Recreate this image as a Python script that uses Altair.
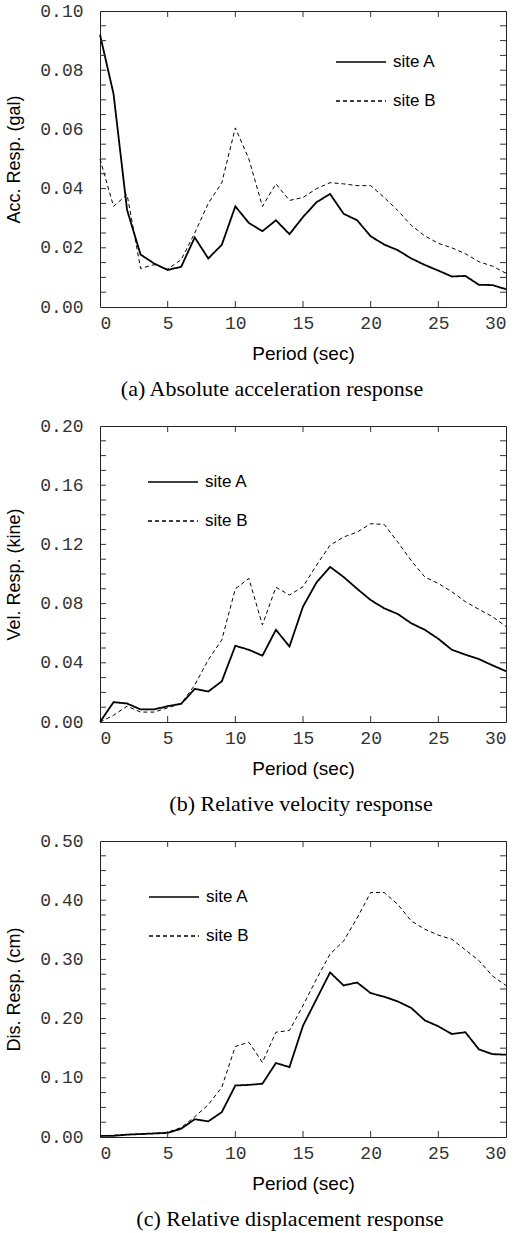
import altair as alt
import pandas as pd

# ---------------- data ----------------
period = list(range(31))

acc_site_a = [0.092, 0.072, 0.0328, 0.0177, 0.0147, 0.0125, 0.0136, 0.0235, 0.0164, 0.021,
              0.034, 0.0284, 0.0256, 0.0293, 0.0246, 0.0304, 0.0354, 0.0382, 0.0315, 0.0293,
              0.0239, 0.0211, 0.0192, 0.0164, 0.0142, 0.0123, 0.0103, 0.0105, 0.0075, 0.0074, 0.006]
acc_site_b = [0.050, 0.034, 0.038, 0.013, 0.0143, 0.0128, 0.016, 0.025, 0.035, 0.042,
              0.0605, 0.050, 0.034, 0.0416, 0.036, 0.037, 0.040, 0.042, 0.0416, 0.041,
              0.041, 0.037, 0.0326, 0.0276, 0.024, 0.0215, 0.020, 0.018, 0.0153, 0.0138, 0.0114]

vel_site_a = [0.0, 0.0134, 0.0125, 0.0085, 0.0085, 0.0107, 0.0123, 0.0224, 0.0206, 0.0275,
              0.0515, 0.0488, 0.0448, 0.0623, 0.051, 0.078, 0.0943, 0.1048, 0.098, 0.090,
              0.0824, 0.0768, 0.073, 0.0667, 0.0623, 0.0562, 0.0488, 0.0455, 0.0425, 0.0383, 0.0343]
vel_site_b = [0.0, 0.0045, 0.0107, 0.0067, 0.0067, 0.0096, 0.0125, 0.025, 0.042, 0.0555,
              0.090, 0.097, 0.0656, 0.091, 0.0858, 0.0914, 0.106, 0.1194, 0.125, 0.1283,
              0.134, 0.1335, 0.1216, 0.109, 0.098, 0.0936, 0.088, 0.0813, 0.0761, 0.0712, 0.0645]

dis_site_a = [0.002, 0.002, 0.004, 0.005, 0.006, 0.007, 0.014, 0.030, 0.0264, 0.042,
              0.087, 0.088, 0.090, 0.125, 0.118, 0.188, 0.233, 0.278, 0.256, 0.261,
              0.243, 0.237, 0.229, 0.218, 0.197, 0.187, 0.174, 0.177, 0.148, 0.140, 0.139]
dis_site_b = [0.002, 0.003, 0.004, 0.005, 0.006, 0.008, 0.016, 0.034, 0.0545, 0.084,
              0.153, 0.160, 0.126, 0.177, 0.180, 0.222, 0.267, 0.309, 0.331, 0.370,
              0.413, 0.413, 0.393, 0.365, 0.351, 0.341, 0.334, 0.316, 0.298, 0.272, 0.256]

sites = ["site A", "site B"]
x_labels = [0, 5, 10, 15, 20, 25, 30]
x_inner_ticks = [5, 10, 15, 20, 25]

acc_labels = [0.0, 0.02, 0.04, 0.06, 0.08, 0.10]
vel_labels = [0.0, 0.04, 0.08, 0.12, 0.16, 0.20]
dis_labels = [0.0, 0.10, 0.20, 0.30, 0.40, 0.50]

W, H = 406, 296


def panel(a_vals, b_vals, y_labels, ytitle, caption, cap_dx, leg_x, leg_y):
    ymax = y_labels[-1]
    minor = [ymax * i / 20 for i in range(1, 20)]
    df = pd.DataFrame({
        "Period": period + period,
        "value": a_vals + b_vals,
        "site": [sites[0]] * len(period) + [sites[1]] * len(period),
    })
    xs = alt.Scale(domain=[0, 30], nice=False, zero=False)
    ys = alt.Scale(domain=[0, ymax], nice=False)
    x_axis = alt.Axis(values=x_labels, format="d", title="Period (sec)")
    y_axis = alt.Axis(values=y_labels, format=".2f", title=ytitle)

    line = alt.Chart(df).mark_line(color="black").encode(
        x=alt.X("Period:Q", scale=xs, axis=x_axis),
        y=alt.Y("value:Q", scale=ys, axis=y_axis),
        strokeDash=alt.StrokeDash(
            "site:N",
            scale=alt.Scale(domain=sites, range=[[1, 0], [4, 3]]),
            legend=alt.Legend(
                orient="none", legendX=leg_x, legendY=leg_y, title=None,
                symbolType="stroke", symbolSize=2500, symbolStrokeWidth=1.5,
                symbolStrokeColor="black", labelFont="Liberation Sans",
                labelFontSize=17, labelColor="black", labelOffset=6,
                rowPadding=5, direction="vertical",
            ),
        ),
        strokeWidth=alt.condition(alt.datum.site == sites[0], alt.value(1.8), alt.value(1.0)),
    )

    tick_df_y = pd.DataFrame({"value": minor})
    tick_df_x = pd.DataFrame({"Period": x_inner_ticks})
    rule = alt.Chart(tick_df_y).mark_rule(color="#333", strokeWidth=1)
    yl = alt.Y("value:Q", scale=ys, axis=y_axis)
    left_t = rule.encode(y=yl, x=alt.value(0), x2=alt.value(6))
    right_t = rule.encode(y=yl, x=alt.value(W - 6), x2=alt.value(W))
    xrule = alt.Chart(tick_df_x).mark_rule(color="#333", strokeWidth=1)
    xl = alt.X("Period:Q", scale=xs, axis=x_axis)
    top_t = xrule.encode(x=xl, y=alt.value(0), y2=alt.value(6))
    bot_t = xrule.encode(x=xl, y=alt.value(H - 6), y2=alt.value(H))

    return alt.layer(line, left_t, right_t, top_t, bot_t).properties(
        width=W, height=H,
        title=alt.TitleParams(
            caption, orient="bottom", font="Liberation Serif", fontSize=22,
            fontWeight="normal", anchor="middle", frame="group", dx=cap_dx,
            offset=16, color="black",
        ),
    )


pa = panel(acc_site_a, acc_site_b, acc_labels, "Acc. Resp. (gal)",
           "(a) Absolute acceleration response", -31, 235, 25)
pb = panel(vel_site_a, vel_site_b, vel_labels, "Vel. Resp. (kine)",
           "(b) Relative velocity response", -2, 47, 30)
pc = panel(dis_site_a, dis_site_b, dis_labels, "Dis. Resp. (cm)",
           "(c) Relative displacement response", -13, 48, 30)

chart = alt.vconcat(pa, pb, pc, spacing=15).resolve_scale(
    strokeDash="independent", x="independent", y="independent"
).resolve_legend(strokeDash="independent").configure_view(
    stroke="#222", strokeWidth=1
).configure_axis(
    labelFont="Liberation Mono", labelFontSize=18, labelColor="#333",
    titleFont="Liberation Sans", titleFontSize=18, titleFontWeight="normal",
    titleColor="black", ticks=False, tickSize=0, domain=False, grid=False,
).configure_axisX(
    labelPadding=7, titlePadding=12, titleFontSize=19,
).configure_axisY(
    labelPadding=17, titlePadding=16,
).properties(
    padding={"left": 5, "top": 1, "right": 0, "bottom": 0},
    background="white",
)

chart.save("out.html", embed_options={"renderer": "svg", "actions": False})
